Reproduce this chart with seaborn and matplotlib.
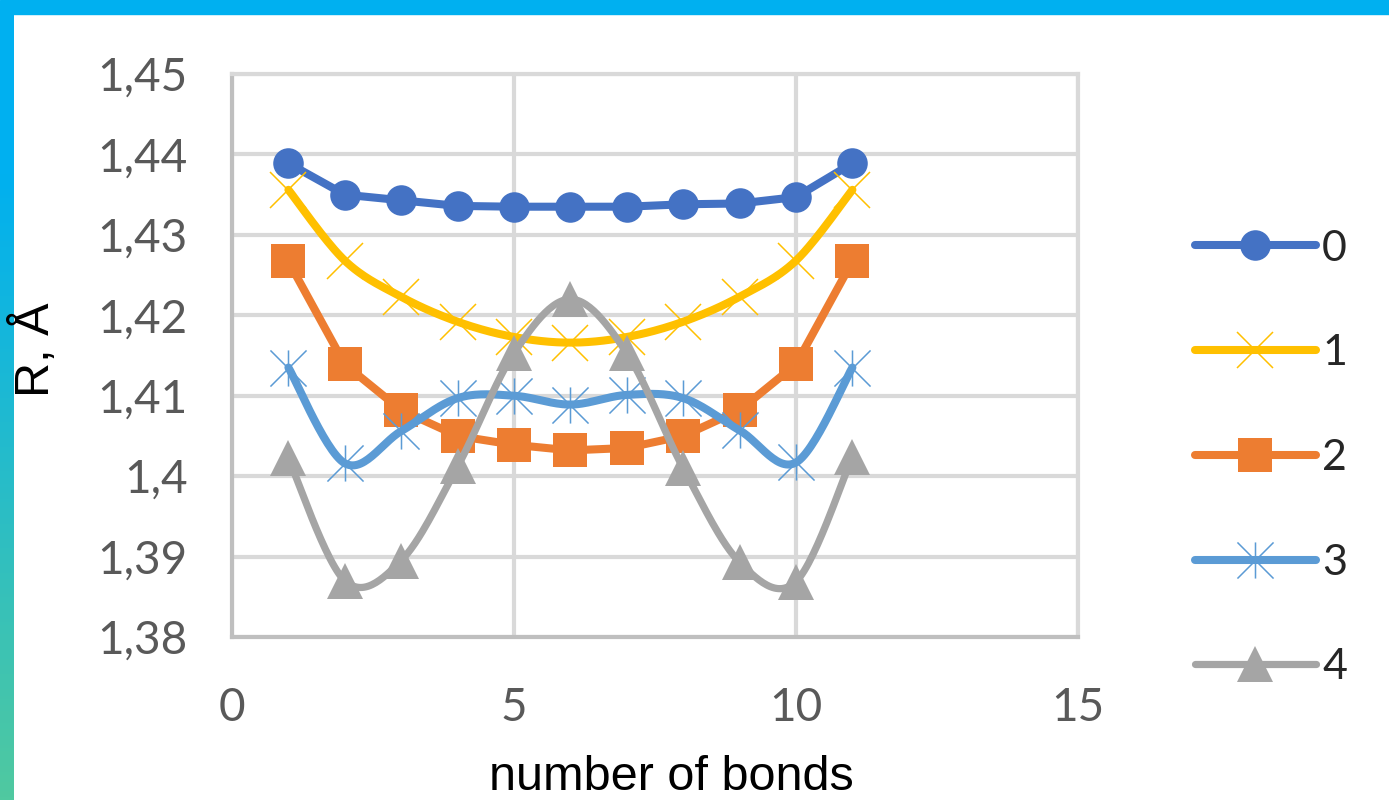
import numpy as np
import matplotlib
matplotlib.use("Agg")
import matplotlib.pyplot as plt
import seaborn as sns
from matplotlib.path import Path
from matplotlib.lines import Line2D
from matplotlib.ticker import FuncFormatter
from matplotlib.colors import LinearSegmentedColormap

# data
bonds = [1, 2, 3, 4, 5, 6, 7, 8, 9, 10, 11]
r0 = [1.4389, 1.4350, 1.4343, 1.4336, 1.4335, 1.4335, 1.4335, 1.4338, 1.4339, 1.4347, 1.4389]
r1 = [1.4356, 1.4268, 1.4223, 1.4192, 1.4173, 1.4166, 1.4173, 1.4192, 1.4223, 1.4268, 1.4356]
r2 = [1.4267, 1.4139, 1.4082, 1.4050, 1.4039, 1.4032, 1.4035, 1.4050, 1.4082, 1.4139, 1.4267]
r3 = [1.4135, 1.4016, 1.4056, 1.4097, 1.4100, 1.4089, 1.4101, 1.4097, 1.4057, 1.4017, 1.4135]
r4 = [1.4022, 1.3870, 1.3895, 1.4012, 1.4153, 1.4220, 1.4153, 1.4010, 1.3893, 1.3869, 1.4024]
series_names = ["0", "1", "2", "3", "4"]
x_ticks = [0, 5, 10, 15]
y_ticks = [1.38, 1.39, 1.40, 1.41, 1.42, 1.43, 1.44, 1.45]

colors = ["#4472C4", "#FFC000", "#ED7D31", "#5B9BD5", "#A5A5A5"]

# excel-like "star" marker: x plus vertical bar
star = Path([(0, -1), (0, 1), (-1, -1), (1, 1), (-1, 1), (1, -1)],
            [Path.MOVETO, Path.LINETO, Path.MOVETO, Path.LINETO, Path.MOVETO, Path.LINETO])

styles = [
    dict(marker="o", ms=22, mew=0, smooth=False, lw=5.8),
    dict(marker="x", ms=26, mew=1.1, smooth=True, lw=5.8),
    dict(marker="s", ms=25, mew=0, smooth=False, lw=5.8),
    dict(marker=star, ms=26, mew=1.1, smooth=True, lw=5.8),
    dict(marker="^", ms=26, mew=0, smooth=True, lw=5.2),
]


def smooth_curve(x, y, n=30):
    """Catmull-Rom through the points (like Excel's smoothed line)."""
    x = np.asarray(x, float)
    y = np.asarray(y, float)
    px = np.concatenate([[x[0]], x, [x[-1]]])
    py = np.concatenate([[y[0]], y, [y[-1]]])
    xs, ys = [], []
    t = np.linspace(0, 1, n)
    for i in range(1, len(px) - 2):
        p0, p1, p2, p3 = (np.array([px[j], py[j]]) for j in range(i - 1, i + 3))
        c1 = p1 + (p2 - p0) / 6
        c2 = p2 - (p3 - p1) / 6
        b = ((1 - t) ** 3)[:, None] * p1 + (3 * (1 - t) ** 2 * t)[:, None] * c1 \
            + (3 * (1 - t) * t ** 2)[:, None] * c2 + (t ** 3)[:, None] * p2
        xs.extend(b[:, 0])
        ys.extend(b[:, 1])
    return np.array(xs), np.array(ys)


sns.set_theme(style="white")
plt.rcParams["font.family"] = ["Lato", "DejaVu Sans"]

fig = plt.figure(figsize=(13.89, 8.0), dpi=100)
ax = fig.add_axes([232 / 1389, 1 - 637 / 800, (1078 - 232) / 1389, (637 - 74) / 800])

handles = []
for k, (vals, st) in enumerate(zip([r0, r1, r2, r3, r4], styles)):
    c = colors[k]
    z = 3 + k
    if st["smooth"]:
        sx, sy = smooth_curve(bonds, vals)
    else:
        sx, sy = np.array(bonds, float), np.array(vals)
    sns.lineplot(x=sx, y=sy, sort=False, color=c, linewidth=st["lw"], ax=ax,
                 zorder=z, solid_capstyle="round", solid_joinstyle="round")
    ax.plot(bonds, vals, linestyle="none", marker=st["marker"], markersize=st["ms"],
            markerfacecolor=c, markeredgecolor=c, markeredgewidth=st["mew"], zorder=z)
    handles.append(Line2D([], [], color=c, linewidth=st["lw"], solid_capstyle="round",
                          marker=st["marker"], markersize=st["ms"], markerfacecolor=c,
                          markeredgecolor=c, markeredgewidth=st["mew"]))

ax.set_xlim(0, 15)
ax.set_ylim(1.38, 1.45)
ax.set_xticks(x_ticks)
ax.set_yticks(y_ticks)
ax.yaxis.set_major_formatter(FuncFormatter(lambda v, p: f"{v:.2f}".rstrip("0").rstrip(".").replace(".", ",")))
ax.grid(True, color="#D9D9D9", linewidth=3)
ax.set_axisbelow(True)
for sp in ax.spines.values():
    sp.set_visible(True)
    sp.set_color("#D9D9D9")
    sp.set_linewidth(3)
ax.spines["left"].set_color("#BFBFBF")
ax.spines["bottom"].set_color("#BFBFBF")
ax.tick_params(axis="both", length=0, labelsize=33, labelcolor="#595959")
ax.tick_params(axis="y", pad=32)
ax.tick_params(axis="x", pad=36)

fig.text(35 / 1389, 1 - 350 / 800, "R, Å", rotation=90, ha="center", va="center",
         fontsize=35, family=["Liberation Sans", "DejaVu Sans"], color="black")
fig.text(671 / 1389, 1 - 778 / 800, "number of bonds", ha="center", va="center",
         fontsize=35, family=["Liberation Sans", "DejaVu Sans"], color="black")

fig.legend(handles, series_names, loc="center left", bbox_to_anchor=(1195 / 1389, 1 - 458 / 800),
           frameon=False, fontsize=31, handlelength=2.8, handletextpad=0.15,
           labelspacing=1.55, borderpad=0, borderaxespad=0)

# decorative frame: cyan top bar and gradient left bar
fig.patches.append(plt.Rectangle((0, 1 - 14 / 800), 1, 14 / 800, transform=fig.transFigure,
                                 color="#00B0F0", zorder=0))
bar = fig.add_axes([0, 0, 13 / 1389, 1 - 14 / 800])
grad = np.linspace(0, 1, 256)[:, None]
cmap = LinearSegmentedColormap.from_list("edge", [(0, "#00B0F0"), (0.2, "#00B0F0"), (1, "#50C9A0")])
bar.imshow(grad, aspect="auto", cmap=cmap, extent=[0, 1, 1, 0])
bar.set_axis_off()

fig.savefig("out.png", dpi=100)
